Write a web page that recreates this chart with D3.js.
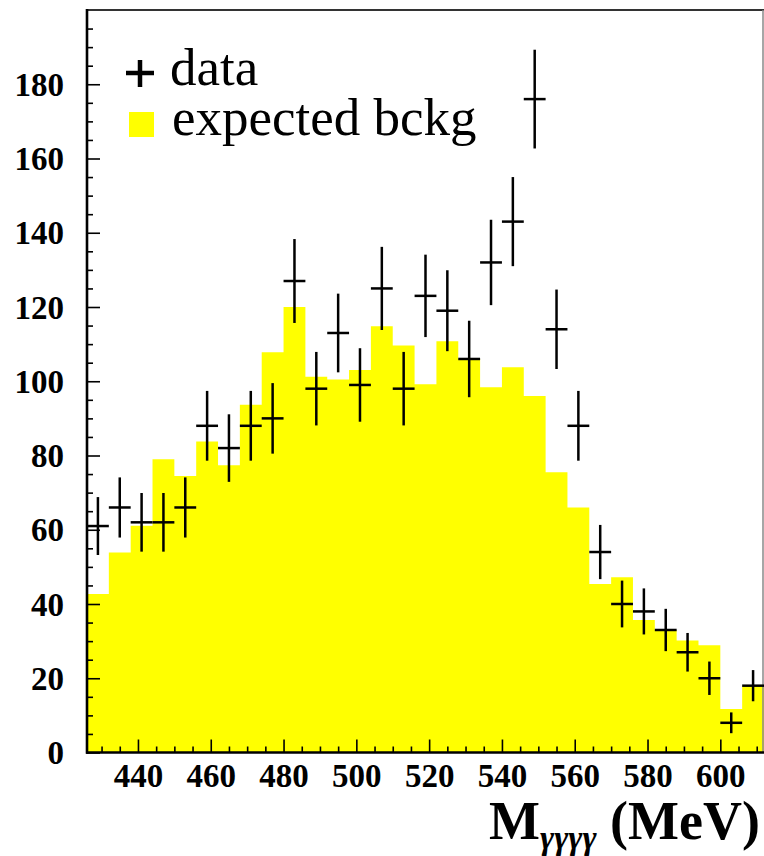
<!DOCTYPE html>
<html>
<head>
<meta charset="utf-8">
<script src="https://cdn.jsdelivr.net/npm/d3@7"></script>
<style>
  html, body { margin: 0; padding: 0; background: #fff; }
  svg { display: block; }
  .tick text { font-family: "Liberation Serif", "Times New Roman", serif; font-weight: bold; font-size: 33px; fill: #000; }
</style>
</head>
<body>
<svg id="chart" width="764" height="856"></svg>
<script>
// Four-photon invariant mass: observed counts vs. expected background
const binCenters = [429, 435, 441, 447, 453, 459, 465, 471, 477, 483, 489, 495, 501, 507, 513, 519,
                    525, 531, 537, 543, 549, 555, 561, 567, 573, 579, 585, 591, 597, 603, 609];
const binWidth = 6;
const background = [42.7, 53.9, 61.1, 79.0, 74.5, 83.8, 77.4, 93.7, 107.8, 120.0, 101.2, 100.5, 103.0, 114.8, 109.6, 99.2,
                    110.8, 106.0, 98.4, 103.8, 96.0, 75.5, 66.0, 45.4, 47.2, 35.7, 33.0, 30.2, 28.9, 11.7, 18.0];
const counts = [61, 66, 62, 62, 66, 88, 82, 88, 90, 127, 98, 113, 99, 125, 98, 123,
                119, 106, 132, 143, 176, 114, 88, 54, 40, 38, 33, 27, 20, 8, 18];
const errors = [7.8, 8.1, 7.9, 7.9, 8.1, 9.4, 9.1, 9.4, 9.5, 11.3, 9.9, 10.6, 9.9, 11.2, 9.9, 11.1,
                10.9, 10.3, 11.5, 12.0, 13.3, 10.7, 9.4, 7.3, 6.3, 6.2, 5.7, 5.2, 4.5, 2.8, 4.2];
const xTicks = [440, 460, 480, 500, 520, 540, 560, 580, 600];
const yTicks = [0, 20, 40, 60, 80, 100, 120, 140, 160, 180];
const xDomain = [426, 612];
const yDomain = [0, 200];

const svg = d3.select("#chart");
const x = d3.scaleLinear().domain(xDomain).range([87, 764]);
const y = d3.scaleLinear().domain(yDomain).range([752.5, 10]);

// Background histogram as a filled step outline
const steps = binCenters.map((c, i) => ({ e: c - binWidth / 2, v: background[i] }));
steps.push({ e: binCenters[binCenters.length - 1] + binWidth / 2, v: background[background.length - 1] });
const area = d3.area()
  .x(d => x(d.e))
  .y0(y(0))
  .y1(d => y(d.v))
  .curve(d3.curveStepAfter);
svg.append("path").datum(steps).attr("d", area).attr("fill", "#ffff00");

// Axes with inward ticks
const xMinor = d3.range(430, 612, 5).filter(v => v % 20 !== 0);
const yMinor = d3.range(0, 200, 5).filter(v => v % 20 !== 0);

const gx = svg.append("g").attr("transform", `translate(0,${y(0)})`);
gx.call(d3.axisBottom(x).tickValues(xTicks).tickSize(-13).tickPadding(11));
gx.append("g").call(d3.axisBottom(x).tickValues(xMinor).tickSize(-6).tickFormat(""));

const gy = svg.append("g").attr("transform", `translate(${x(xDomain[0])},0)`);
gy.call(d3.axisLeft(y).tickValues(yTicks).tickSize(-13).tickPadding(23));
gy.append("g").call(d3.axisLeft(y).tickValues(yMinor).tickSize(-6).tickFormat(""));

svg.selectAll(".domain").remove();
svg.selectAll(".tick line").attr("stroke", "#000").attr("stroke-width", 1.6);
gy.selectAll(".tick text").attr("dy", "0.34em");

// Frame
svg.append("line").attr("x1", 87).attr("x2", 764).attr("y1", 10).attr("y2", 10)
  .attr("stroke", "#333").attr("stroke-width", 2);
svg.append("line").attr("x1", 763).attr("x2", 763).attr("y1", 10).attr("y2", y(0))
  .attr("stroke", "#888").attr("stroke-width", 1.5);
svg.append("line").attr("x1", 87).attr("x2", 87).attr("y1", 9).attr("y2", y(0) + 1.25)
  .attr("stroke", "#000").attr("stroke-width", 2.6);
svg.append("line").attr("x1", 86).attr("x2", 764).attr("y1", y(0)).attr("y2", y(0))
  .attr("stroke", "#000").attr("stroke-width", 2.6);

// Data points with error bars
const pts = svg.append("g").attr("stroke", "#000").attr("stroke-width", 2.5);
binCenters.forEach((c, i) => {
  pts.append("line")
    .attr("x1", x(c - binWidth / 2)).attr("x2", x(c + binWidth / 2))
    .attr("y1", y(counts[i])).attr("y2", y(counts[i]));
  pts.append("line")
    .attr("x1", x(c)).attr("x2", x(c))
    .attr("y1", y(counts[i] - errors[i])).attr("y2", y(counts[i] + errors[i]));
});

// Legend
const serif = "'Liberation Serif', 'Times New Roman', serif";
const lg = svg.append("g");
lg.append("line").attr("x1", 126).attr("x2", 154).attr("y1", 73).attr("y2", 73)
  .attr("stroke", "#000").attr("stroke-width", 4.5);
lg.append("line").attr("x1", 140).attr("x2", 140).attr("y1", 60).attr("y2", 87)
  .attr("stroke", "#000").attr("stroke-width", 4.5);
lg.append("text").attr("x", 170).attr("y", 85)
  .attr("font-family", serif).attr("font-size", 53).text("data");
lg.append("rect").attr("x", 129).attr("y", 112).attr("width", 25).attr("height", 25)
  .attr("fill", "#ffff00");
lg.append("text").attr("x", 172).attr("y", 135)
  .attr("font-family", serif).attr("font-size", 53).text("expected bckg");

// Axis title
const title = svg.append("text").attr("x", 760).attr("y", 839)
  .attr("text-anchor", "end").attr("font-family", serif).attr("font-weight", "bold");
title.append("tspan").attr("font-size", 54).text("M");
title.append("tspan").attr("font-size", 34).attr("font-style", "italic").attr("dy", 10).text("γγγγ");
title.append("tspan").attr("font-size", 54).attr("dy", -10).text(" (MeV)");
</script>
</body>
</html>
